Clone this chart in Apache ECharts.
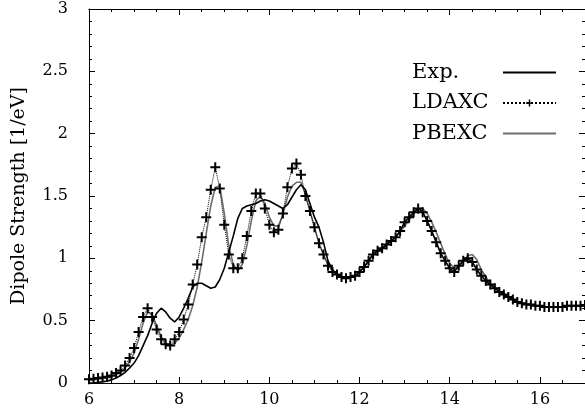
<!DOCTYPE html>
<html>
<head>
<meta charset="utf-8">
<script src="https://cdn.jsdelivr.net/npm/echarts@6/dist/echarts.min.js"></script>
<style>
  html, body { margin: 0; padding: 0; background: #fff; }
  #chart { width: 585px; height: 418px; }
</style>
</head>
<body>
<div id="chart"></div>
<script>
  // photon energy [eV]
  var energy = [
    6.0, 6.1, 6.2, 6.3, 6.4, 6.5, 6.6, 6.7, 6.8, 6.9,
    7.0, 7.1, 7.2, 7.3, 7.4, 7.5, 7.6, 7.7, 7.8, 7.9,
    8.0, 8.1, 8.2, 8.3, 8.4, 8.5, 8.6, 8.7, 8.8, 8.9,
    9.0, 9.1, 9.2, 9.3, 9.4, 9.5, 9.6, 9.7, 9.8, 9.9,
    10.0, 10.1, 10.2, 10.3, 10.4, 10.5, 10.6, 10.7, 10.8, 10.9,
    11.0, 11.1, 11.2, 11.3, 11.4, 11.5, 11.6, 11.7, 11.8, 11.9,
    12.0, 12.1, 12.2, 12.3, 12.4, 12.5, 12.6, 12.7, 12.8, 12.9,
    13.0, 13.1, 13.2, 13.3, 13.4, 13.5, 13.6, 13.7, 13.8, 13.9,
    14.0, 14.1, 14.2, 14.3, 14.4, 14.5, 14.6, 14.7, 14.8, 14.9,
    15.0, 15.1, 15.2, 15.3, 15.4, 15.5, 15.6, 15.7, 15.8, 15.9,
    16.0, 16.1, 16.2, 16.3, 16.4, 16.5, 16.6, 16.7, 16.8, 16.9,
    17.0
  ]

  var expData = [
    0.00, 0.00, 0.005, 0.01, 0.015, 0.025, 0.04, 0.06, 0.085, 0.12,
    0.16, 0.22, 0.30, 0.38, 0.48, 0.56, 0.60, 0.57, 0.52, 0.49,
    0.53, 0.60, 0.68, 0.77, 0.80, 0.80, 0.78, 0.76, 0.77, 0.83,
    0.92, 1.05, 1.18, 1.32, 1.40, 1.42, 1.43, 1.44, 1.46, 1.47,
    1.46, 1.44, 1.42, 1.40, 1.43, 1.49, 1.55, 1.59, 1.55, 1.44,
    1.33, 1.25, 1.13, 0.98, 0.91, 0.87, 0.85, 0.84, 0.85, 0.86,
    0.89, 0.93, 0.98, 1.03, 1.06, 1.08, 1.11, 1.14, 1.17, 1.22,
    1.29, 1.33, 1.37, 1.40, 1.37, 1.30, 1.22, 1.13, 1.04, 0.98,
    0.92, 0.89, 0.94, 0.98, 1.00, 0.97, 0.91, 0.86, 0.82, 0.79,
    0.76, 0.73, 0.71, 0.69, 0.67, 0.65, 0.64, 0.63, 0.63, 0.62,
    0.62, 0.61, 0.61, 0.61, 0.61, 0.61, 0.62, 0.62, 0.62, 0.62,
    0.625
  ]

  var ldaData = [
    0.03, 0.035, 0.04, 0.045, 0.05, 0.06, 0.08, 0.10, 0.14, 0.20,
    0.28, 0.41, 0.53, 0.60, 0.53, 0.43, 0.35, 0.31, 0.30, 0.35,
    0.41, 0.51, 0.63, 0.79, 0.95, 1.17, 1.33, 1.55, 1.73, 1.56,
    1.27, 1.03, 0.92, 0.92, 1.00, 1.18, 1.38, 1.52, 1.52, 1.40,
    1.27, 1.21, 1.23, 1.36, 1.57, 1.72, 1.76, 1.67, 1.50, 1.38,
    1.25, 1.12, 1.03, 0.94, 0.89, 0.87, 0.85, 0.84, 0.85, 0.86,
    0.89, 0.93, 0.98, 1.03, 1.06, 1.08, 1.11, 1.14, 1.17, 1.22,
    1.29, 1.33, 1.37, 1.40, 1.37, 1.30, 1.22, 1.13, 1.04, 0.98,
    0.92, 0.89, 0.94, 0.98, 1.00, 0.97, 0.91, 0.86, 0.82, 0.79,
    0.76, 0.73, 0.71, 0.69, 0.67, 0.65, 0.64, 0.63, 0.63, 0.62,
    0.62, 0.61, 0.61, 0.61, 0.61, 0.61, 0.62, 0.62, 0.62, 0.62,
    0.625
  ]

  var pbeData = [
    0.02, 0.025, 0.03, 0.035, 0.04, 0.05, 0.065, 0.085, 0.12, 0.17,
    0.24, 0.35, 0.48, 0.57, 0.55, 0.46, 0.37, 0.32, 0.30, 0.32,
    0.36, 0.43, 0.51, 0.62, 0.77, 0.97, 1.20, 1.42, 1.57, 1.58,
    1.36, 1.10, 0.95, 0.90, 0.95, 1.10, 1.30, 1.46, 1.50, 1.44,
    1.33, 1.26, 1.26, 1.35, 1.49, 1.58, 1.61, 1.61, 1.51, 1.38,
    1.25, 1.12, 1.03, 0.95, 0.90, 0.87, 0.85, 0.84, 0.85, 0.86,
    0.89, 0.93, 0.98, 1.03, 1.06, 1.08, 1.11, 1.14, 1.17, 1.21,
    1.26, 1.31, 1.36, 1.40, 1.40, 1.36, 1.29, 1.21, 1.12, 1.03,
    0.96, 0.92, 0.93, 0.98, 1.02, 1.03, 0.99, 0.91, 0.85, 0.80,
    0.77, 0.74, 0.71, 0.69, 0.67, 0.65, 0.64, 0.63, 0.63, 0.62,
    0.62, 0.61, 0.61, 0.61, 0.61, 0.61, 0.62, 0.62, 0.62, 0.62,
    0.625
  ]

  var seriesNames = ['Exp.', 'LDAXC', 'PBEXC']

  function pairs(ys) {
    return energy.map(function (x, i) { return [x, ys[i]] })
  }

  var font = 'DejaVu Serif'
  var crossPath = 'path://M4,0H6V4H10V6H6V10H4V6H0V4H4Z'

  // shared look of the four frame sides
  function frameAxis(extra) {
    return Object.assign({
      type: 'value',
      axisLine: { show: true, lineStyle: { color: '#000', width: 1 } },
      axisTick: { show: true, inside: true, length: 6, lineStyle: { color: '#000' } },
      splitLine: { show: false },
      axisLabel: { show: false }
    }, extra)
  }

  var chart = echarts.init(document.getElementById('chart'))
  chart.setOption({
    animation: false,
    backgroundColor: '#fff',
    grid: { left: 89, top: 9, width: 500.5, height: 374 },
    legend: {
      orient: 'vertical',
      left: 412,
      top: 62,
      padding: 0,
      itemGap: 9.5,
      itemWidth: 53,
      itemHeight: 9,
      align: 'right',
      // no marker in the legend for the two plain lines
      data: [
        { name: seriesNames[0], itemStyle: { opacity: 0 } },
        { name: seriesNames[1] },
        { name: seriesNames[2], itemStyle: { opacity: 0 } }
      ],
      formatter: function (name) { return '{a|' + name + '}' },
      textStyle: {
        rich: {
          a: { fontFamily: font, fontSize: 21, color: '#000', width: 86, align: 'left', lineHeight: 21 }
        }
      }
    },
    xAxis: [
      frameAxis({
        position: 'bottom', min: 6, max: 17, interval: 2,
        axisLabel: { show: true, showMaxLabel: false, margin: 9, color: '#000', fontFamily: font, fontSize: 16 }
      }),
      frameAxis({
        position: 'bottom', min: 6, max: 17, interval: 0.5,
        axisTick: { show: true, inside: true, length: 3, lineStyle: { color: '#000' } }
      }),
      frameAxis({ position: 'top', min: 6, max: 17, interval: 2 }),
      frameAxis({
        position: 'top', min: 6, max: 17, interval: 0.5,
        axisTick: { show: true, inside: true, length: 3, lineStyle: { color: '#000' } }
      })
    ],
    yAxis: [
      frameAxis({
        position: 'left', min: 0, max: 3, interval: 0.5,
        minorTick: { show: true, splitNumber: 5, length: 3, lineStyle: { color: '#000' } },
        axisLabel: { show: true, margin: 21, color: '#000', fontFamily: font, fontSize: 16 },
        name: 'Dipole Strength [1/eV]',
        nameLocation: 'middle',
        nameGap: 60,
        nameTextStyle: { fontFamily: font, fontSize: 19, color: '#000' }
      }),
      frameAxis({
        position: 'right', min: 0, max: 3, interval: 0.5,
        minorTick: { show: true, splitNumber: 5, length: 3, lineStyle: { color: '#000' } }
      })
    ],
    series: [
      {
        name: 'PBEXC',
        type: 'line',
        symbol: 'none',
        lineStyle: { color: '#6e6e6e', width: 1.6 },
        itemStyle: { color: '#6e6e6e' },
        data: pairs(pbeData)
      },
      {
        name: 'Exp.',
        type: 'line',
        symbol: 'none',
        lineStyle: { color: '#000', width: 1.6 },
        itemStyle: { color: '#000' },
        data: pairs(expData)
      },
      {
        name: 'LDAXC',
        type: 'line',
        symbol: crossPath,
        symbolSize: 10,
        showAllSymbol: true,
        lineStyle: { color: '#000', width: 1, type: 'dotted' },
        itemStyle: { color: '#000' },
        data: pairs(ldaData)
      }
    ]
  })
</script>
</body>
</html>
